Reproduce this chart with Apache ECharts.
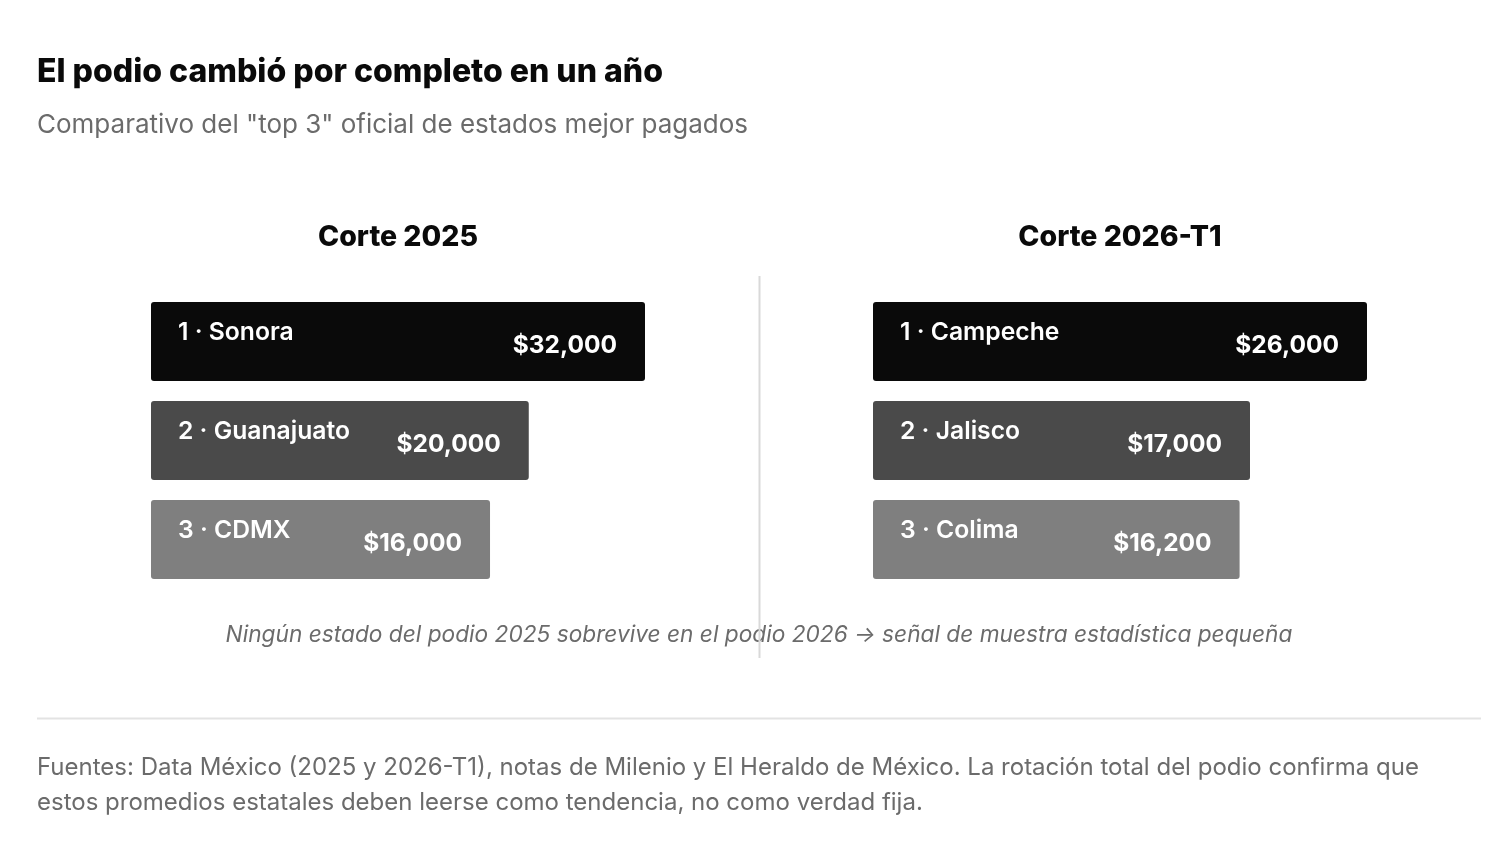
<!DOCTYPE html>
<html>
<head>
<meta charset="utf-8">
<style>
  html, body { margin: 0; padding: 0; background: #fff; }
  #chart { width: 1506px; height: 850px; }
</style>
<script src="https://cdn.jsdelivr.net/npm/echarts@6/dist/echarts.min.js"></script>
</head>
<body>
<div id="chart"></div>
<script>
// datos del podio
const states2025 = ['Sonora', 'Guanajuato', 'CDMX'];
const values2025 = [32000, 20000, 16000];
const states2026 = ['Campeche', 'Jalisco', 'Colima'];
const values2026 = [26000, 17000, 16200];
const ranks = ['1', '2', '3'];
const panelTitles = ['Corte 2025', 'Corte 2026-T1'];
const rankColors = ['#0a0a0a', '#4a4a4a', '#7f7f7f'];

// el eje no arranca en cero
const axisMin2025 = -19000;
const axisMin2026 = -12000;

const FONT = 'Inter, "Noto Sans", sans-serif';

let chart = echarts.init(document.getElementById('chart'));

function fmt(v) {
    return '$' + v.toLocaleString('en-US');
}

function makeRender(states, axisMin) {
    return function (params, api) {
        let v = api.value(0);
        let idx = api.value(1);
        let start = api.coord([axisMin, idx]);
        let end = api.coord([v, idx]);
        let band = api.size([0, 1])[1];
        let h = band * 0.8;
        let top = start[1] - h / 2;
        return {
            type: 'group',
            children: [
                {
                    type: 'rect',
                    shape: { x: start[0], y: top, width: end[0] - start[0], height: h, r: 3 },
                    style: { fill: rankColors[idx] }
                },
                {
                    type: 'text',
                    style: {
                        x: start[0] + 27, y: top + 31,
                        text: ranks[idx] + ' · ' + states[idx],
                        fill: '#fff', font: '600 24.7px ' + FONT,
                        textAlign: 'left', textVerticalAlign: 'middle'
                    }
                },
                {
                    type: 'text',
                    style: {
                        x: end[0] - 28, y: top + 43.5,
                        text: fmt(v),
                        fill: '#fff', font: '700 24.5px ' + FONT,
                        textAlign: 'right', textVerticalAlign: 'middle'
                    }
                }
            ]
        };
    };
}

let option = {
    backgroundColor: '#fff',
    animation: false,
    grid: [
        { left: 151, top: 292, width: 494, height: 297 },
        { left: 873, top: 292, width: 494, height: 297 }
    ],
    xAxis: [
        { type: 'value', gridIndex: 0, min: axisMin2025, max: values2025[0], show: false },
        { type: 'value', gridIndex: 1, min: axisMin2026, max: values2026[0], show: false }
    ],
    yAxis: [
        { type: 'category', gridIndex: 0, data: states2025, inverse: true, show: false },
        { type: 'category', gridIndex: 1, data: states2026, inverse: true, show: false }
    ],
    series: [
        {
            type: 'custom',
            xAxisIndex: 0, yAxisIndex: 0,
            renderItem: makeRender(states2025, axisMin2025),
            encode: { x: 0, y: 1 },
            data: values2025.map((v, i) => [v, i])
        },
        {
            type: 'custom',
            xAxisIndex: 1, yAxisIndex: 1,
            renderItem: makeRender(states2026, axisMin2026),
            encode: { x: 0, y: 1 },
            data: values2026.map((v, i) => [v, i])
        }
    ],
    graphic: [
        // titulo
        {
            type: 'text', x: 37, y: 72,
            style: { text: 'El podio cambió por completo en un año', fill: '#0a0a0a', font: '800 32px ' + FONT, textVerticalAlign: 'middle' }
        },
        {
            type: 'text', x: 37, y: 125,
            style: { text: 'Comparativo del "top 3" oficial de estados mejor pagados', fill: '#6b6b6b', font: '400 26px ' + FONT, textVerticalAlign: 'middle' }
        },
        // titulos de panel
        {
            type: 'text', x: 398, y: 237,
            style: { text: panelTitles[0], fill: '#0a0a0a', font: '800 28.5px ' + FONT, textAlign: 'center', textVerticalAlign: 'middle' }
        },
        {
            type: 'text', x: 1120, y: 237,
            style: { text: panelTitles[1], fill: '#0a0a0a', font: '800 28.5px ' + FONT, textAlign: 'center', textVerticalAlign: 'middle' }
        },
        // divisor vertical
        {
            type: 'line', z: 10,
            shape: { x1: 759.5, y1: 276, x2: 759.5, y2: 658 },
            style: { stroke: '#d9d9d9', lineWidth: 2 }
        },
        // nota
        {
            type: 'text', x: 759, y: 635, z: 5,
            style: {
                text: 'Ningún estado del podio 2025 sobrevive en el podio 2026 → señal de muestra estadística pequeña',
                fill: '#6b6b6b', font: 'italic 400 22.7px ' + FONT, textAlign: 'center', textVerticalAlign: 'middle'
            }
        },
        // linea horizontal
        {
            type: 'line',
            shape: { x1: 37, y1: 718.5, x2: 1481, y2: 718.5 },
            style: { stroke: '#e3e3e3', lineWidth: 2 }
        },
        // fuentes
        {
            type: 'text', x: 37, y: 785,
            style: {
                text: 'Fuentes: Data México (2025 y 2026-T1), notas de Milenio y El Heraldo de México. La rotación total del podio confirma que\nestos promedios estatales deben leerse como tendencia, no como verdad fija.',
                fill: '#6b6b6b', font: '400 24px ' + FONT, lineHeight: 35, textVerticalAlign: 'middle'
            }
        }
    ]
};

chart.setOption(option);
</script>
</body>
</html>
